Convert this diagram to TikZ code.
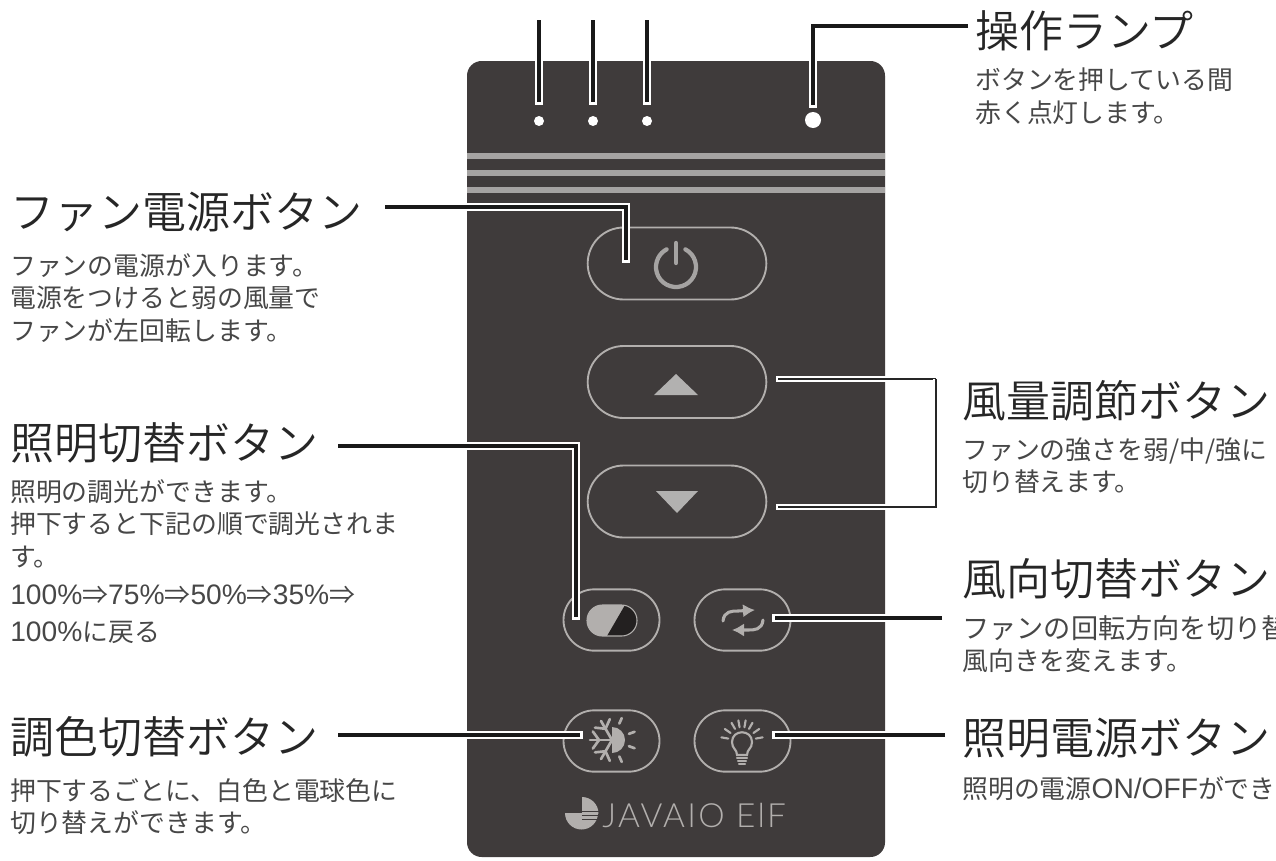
\documentclass[tikz,border=0pt]{standalone}
\usepackage{fontspec}
\usepackage{tikz}
\usepackage{xcolor}
\usetikzlibrary{shapes.misc,arrows.meta}
\setmainfont{Noto Sans CJK JP}
\newfontfamily\titlefont{Noto Sans CJK JP DemiLight}
\newfontfamily\latinfont[Scale=1.09]{Liberation Sans}
\newfontfamily\logofont[LetterSpace=7]{Lato Light}
\definecolor{panel-gray}{HTML}{3F3B3B}
\definecolor{button-gray}{HTML}{B2AFAD}
\definecolor{stripe-gray}{HTML}{A5A3A2}
\tikzset{
    title-label/.style = {anchor=west, inner sep=0pt, text=black!85, font=\titlefont\fontsize{33}{36}\selectfont},
    desc-label/.style = {anchor=north west, inner sep=0pt, align=left, text=black!72, font=\fontsize{19.4}{24.4}\selectfont},
    pill-button/.style = {draw=button-gray, rounded rectangle, line width=1.4pt, inner sep=0pt},
    wide-button/.style = {pill-button, minimum width=134pt, minimum height=54pt},
    small-button/.style = {pill-button, minimum width=72pt, minimum height=46pt},
    led/.style = {circle, fill=white, inner sep=0pt, minimum size=7.5pt},
    callout-line/.style = {draw=white, line width=6.2pt, postaction={draw=black!90, line width=3pt, shorten >=2pt}},
    thin-callout/.style = {draw=white, line width=5pt, postaction={draw=black!85, line width=2.2pt, shorten >=1.5pt}},
    icon-line/.style = {draw=button-gray, line width=2pt, line cap=round},
}

\begin{document}
\begin{tikzpicture}[x=0.75pt, y=-0.75pt]
\useasboundingbox (0,0) rectangle (1276,860);
\clip (0,0) rectangle (1276,860);

\fill [panel-gray, rounded corners=11pt] (467,61) rectangle (885,857);
\foreach \y in {156,173,190}
    \fill [stripe-gray] (467,\y-3) rectangle (885,\y+3);

\node [led] (lamp-a) at (539,121) {};
\node [led] (lamp-b) at (593,121) {};
\node [led] (lamp-c) at (647,121) {};
\node [led, minimum size=12pt] (lamp-op) at (813,120) {};

\node [wide-button] (power-btn) at (677,263.5) {};
\node [wide-button] (up-btn) at (677,382) {};
\node [wide-button] (down-btn) at (677,501.5) {};
\node [small-button] (dim-btn) at (611.5,620) {};
\node [small-button] (dir-btn) at (742.5,620) {};
\node [small-button] (tone-btn) at (611.5,741) {};
\node [small-button] (light-btn) at (742.5,741) {};

% power icon
\draw [icon-line, draw=stripe-gray, line width=3.2pt] (676,267)+(-62:20) arc (-62:242:20);
\draw [icon-line, draw=stripe-gray, line width=3.2pt] (676,243) -- (676,263);

\fill [stripe-gray!85!white] (654,395) -- (698,395) -- (676,374) -- cycle;
\fill [stripe-gray!85!white] (656,491) -- (698,491) -- (677,513) -- cycle;

% dimmer icon
\begin{scope}
    \clip [rounded corners=11.5pt] (587,605) rectangle (637,636);
    \fill [button-gray] (587,605) rectangle (637,636);
    \fill [black!45!panel-gray] (625,605) -- (637,605) -- (637,636) -- (607,636) -- cycle;
\end{scope}
\draw [button-gray, line width=0.8pt, rounded corners=11.5pt] (587,605) rectangle (637,636);

% direction icon
\draw [icon-line, line width=2.3pt, -{Latex[length=9pt,width=10pt]}] (723,621) .. controls (724,611) and (732,611) .. (738,611) -- (755,610);
\draw [icon-line, line width=2.3pt, -{Latex[length=9pt,width=10pt]}] (763,620) .. controls (762,630) and (754,630) .. (748,630) -- (732,630);

% tone icon
\fill [button-gray] (612,740) +(-90:13) arc (-90:90:13) -- cycle;
\foreach \a in {-66,-20,20,66}
    \draw [icon-line] (612,740)+(\a:18) -- +(\a:24);
\foreach \a in {120,180,240} {
    \draw [icon-line] (612,740) -- +(\a:22);
    \draw [icon-line] (612,740)+(\a:13) -- +(\a+24:21);
    \draw [icon-line] (612,740)+(\a:13) -- +(\a-24:21);
}

% bulb icon
\draw [icon-line, line width=1.6pt] (737,755) .. controls (737,749) and (732,749) .. (732,742) .. controls (732,729) and (752,729) .. (752,742) .. controls (752,749) and (747,749) .. (747,755) -- cycle;
\draw [icon-line, line width=1.6pt] (737,758) -- (747,758) (738,761) -- (746,761) (739,764) -- (745,764);
\foreach \a in {-170,-145,-120,-100,-80,-60,-35,-10}
    \draw [icon-line, line width=1.6pt] (742,741)+(\a:14) -- +(\a:21);

% logo
\fill [button-gray] (582,813) -- (565,813) arc (180:0:16.5) -- cycle;
\fill [button-gray] (582,813) -- (582,797) arc (-90:0:16.5) -- cycle;
\foreach \y in {811,815,819}
    \draw [panel-gray, line width=0.6pt] (582,\y) -- (599,\y);
\node [inner sep=0pt, anchor=west, text=button-gray, font=\logofont\fontsize{25}{25}\selectfont] (logo) at (602,815) {JAVAIO ElF};

\node [title-label] (op-title) at (975,31) {操作ランプ};
\node [desc-label] (op-desc) at (975,68) {ボタンを押している間\\赤く点灯します。};
\node [title-label] (power-title) at (10,212) {ファン電源ボタン};
\node [desc-label] (power-desc) at (10,253) {ファンの電源が入ります。\\電源をつけると弱の風量で\\ファンが左回転します。};
\node [title-label] (dim-title) at (10,443) {照明切替ボタン};
\node [desc-label] (dim-desc) at (10,479) {照明の調光ができます。\\押下すると下記の順で調光されま\\す。\\[4pt]{\latinfont 100\%}⇒{\latinfont 75\%}⇒{\latinfont 50\%}⇒{\latinfont 35\%}⇒\\[4pt]{\latinfont 100\%}に戻る};
\node [title-label] (tone-title) at (10,737) {調色切替ボタン};
\node [desc-label] (tone-desc) at (10,778) {押下するごとに、白色と電球色に\\切り替えができます。};
\node [title-label] (fan-title) at (962,401) {風量調節ボタン};
\node [desc-label] (fan-desc) at (962,437) {ファンの強さを弱/中/強に\\切り替えます。};
\node [title-label] (dir-title) at (962,579) {風向切替ボタン};
\node [desc-label] (dir-desc) at (962,615) {\fontsize{20.4}{24.4}\selectfont ファンの回転方向を切り替\\風向きを変えます。};
\node [title-label] (light-title) at (962,738) {照明電源ボタン};
\node [desc-label] (light-desc) at (962,776) {照明の電源{\latinfont ON/OFF}ができ};

\coordinate (lead-a) at (539,20);
\coordinate (lead-b) at (593,20);
\coordinate (lead-c) at (647,20);
\coordinate (lead-op) at (968,26);
\coordinate (power-start) at (385,207);
\coordinate (power-end) at (626,263);
\coordinate (dim-start) at (338,446);
\coordinate (dim-end) at (576,620);
\coordinate (tone-start) at (338,735);
\coordinate (tone-end) at (583,735);
\coordinate (dir-start) at (942,618);
\coordinate (dir-end) at (772,618);
\coordinate (light-start) at (945,735);
\coordinate (light-end) at (772,735);
\coordinate (fan-up-end) at (776,379);
\coordinate (fan-down-end) at (776,507);
\coordinate (fan-side) at (936,379);

\draw [callout-line] (lead-a) -- ([yshift=12pt]lamp-a.center);
\draw [callout-line] (lead-b) -- ([yshift=12pt]lamp-b.center);
\draw [callout-line] (lead-c) -- ([yshift=12pt]lamp-c.center);
\draw [callout-line] (lead-op) -| ([yshift=9pt]lamp-op.center);
\draw [callout-line] (power-start) -| (power-end);
\draw [callout-line] (dim-start) -| (dim-end);
\draw [callout-line] (tone-start) -- (tone-end);
\draw [callout-line] (dir-start) -- (dir-end);
\draw [callout-line] (light-start) -- (light-end);
\draw [thin-callout] (fan-side) -- (fan-up-end);
\draw [thin-callout] (fan-side) |- (fan-down-end);
\end{tikzpicture}
\end{document}
